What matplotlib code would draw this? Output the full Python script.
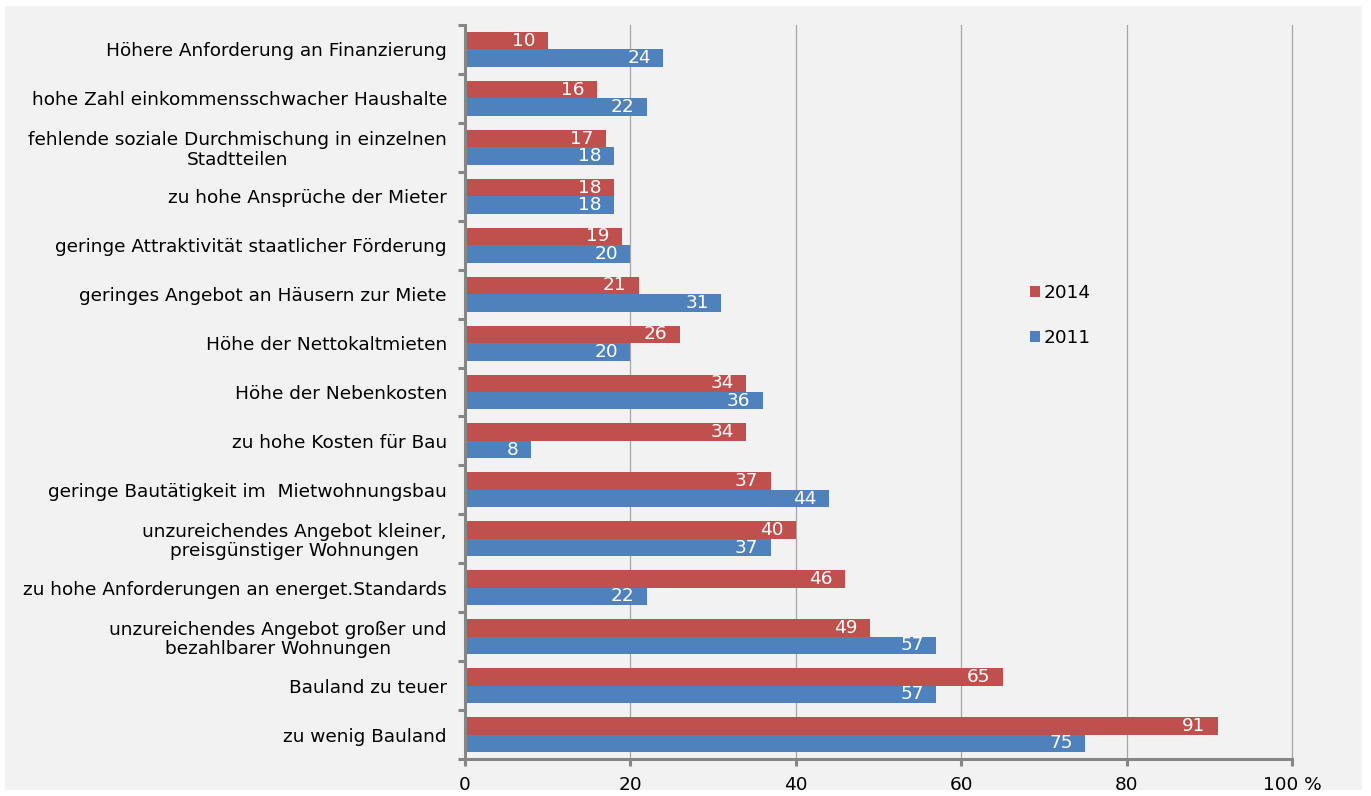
import matplotlib
matplotlib.use("Agg")
import matplotlib.pyplot as plt
import numpy as np
from matplotlib.patches import Rectangle

categories = [
    "Höhere Anforderung an Finanzierung",
    "hohe Zahl einkommensschwacher Haushalte",
    "fehlende soziale Durchmischung in einzelnen\nStadtteilen",
    "zu hohe Ansprüche der Mieter",
    "geringe Attraktivität staatlicher Förderung",
    "geringes Angebot an Häusern zur Miete",
    "Höhe der Nettokaltmieten",
    "Höhe der Nebenkosten",
    "zu hohe Kosten für Bau",
    "geringe Bautätigkeit im  Mietwohnungsbau",
    "unzureichendes Angebot kleiner,\npreisgünstiger Wohnungen",
    "zu hohe Anforderungen an energet.Standards",
    "unzureichendes Angebot großer und\nbezahlbarer Wohnungen",
    "Bauland zu teuer",
    "zu wenig Bauland",
]
values_2014 = [10, 16, 17, 18, 19, 21, 26, 34, 34, 37, 40, 46, 49, 65, 91]
values_2011 = [24, 22, 18, 18, 20, 31, 20, 36, 8, 44, 37, 22, 57, 57, 75]
series_names = ["2014", "2011"]
x_ticks = [0, 20, 40, 60, 80, 100]
x_tick_labels = ["0", "20", "40", "60", "80", "100 %"]

RED = "#c0504d"
BLUE = "#4f81bd"
BG = "#f2f2f2"
SPINE = "#868686"
FS = 13.3

plt.rcParams["font.family"] = ["DejaVu Sans"]

fig = plt.figure(figsize=(13.71, 7.96), dpi=100, facecolor="white")
bg = Rectangle((5 / 1371, 6 / 796), (1362 - 5) / 1371, (790 - 6) / 796,
               transform=fig.transFigure, facecolor=BG, edgecolor="none", zorder=-10)
fig.add_artist(bg)

ax = fig.add_axes([465 / 1371, 1 - 759 / 796, (1292 - 465) / 1371, (759 - 25) / 796])
ax.set_facecolor(BG)

n = len(categories)
y = np.arange(n)
h = 0.357

bars14 = ax.barh(y - h / 2, values_2014, height=h, color=RED, label=series_names[0], zorder=3)
bars11 = ax.barh(y + h / 2, values_2011, height=h, color=BLUE, label=series_names[1], zorder=3)

for bars, vals in ((bars14, values_2014), (bars11, values_2011)):
    for b, v in zip(bars, vals):
        ax.annotate(str(v), xy=(v, b.get_y() + b.get_height() / 2), xytext=(-9, 0),
                    textcoords="offset points", ha="right", va="center",
                    color="white", fontsize=FS, zorder=4)

ax.set_ylim(n - 0.5, -0.5)
ax.set_xlim(0, 100)

ax.set_yticks(y)
ax.set_yticklabels(categories, fontsize=FS, multialignment="center", linespacing=1.12)
ax.set_yticks(np.arange(n + 1) - 0.5, minor=True)
ax.tick_params(axis="y", which="major", length=0, pad=13)
ax.tick_params(axis="y", which="minor", length=5, width=2.2, color=SPINE, direction="out")

ax.set_xticks(x_ticks)
ax.set_xticklabels(x_tick_labels, fontsize=FS)
ax.tick_params(axis="x", which="major", length=5, width=2.2, color=SPINE, direction="out", pad=7)

ax.grid(axis="x", color="#a6a6a6", linewidth=0.9, zorder=1)
for gl in ax.get_xgridlines():
    gl.set_clip_on(False)
ax.set_axisbelow(True)

for s in ("top", "right"):
    ax.spines[s].set_visible(False)
for s in ("left", "bottom"):
    ax.spines[s].set_color(SPINE)
    ax.spines[s].set_linewidth(2.2)
    ax.spines[s].set_zorder(5)

leg = ax.legend(loc="center left", bbox_to_anchor=(0.663, 0.604), frameon=False,
                fontsize=FS, handlelength=0.55, handleheight=0.55, handletextpad=0.2,
                labelspacing=1.45)

fig.savefig("out.png", dpi=100, facecolor="white")
